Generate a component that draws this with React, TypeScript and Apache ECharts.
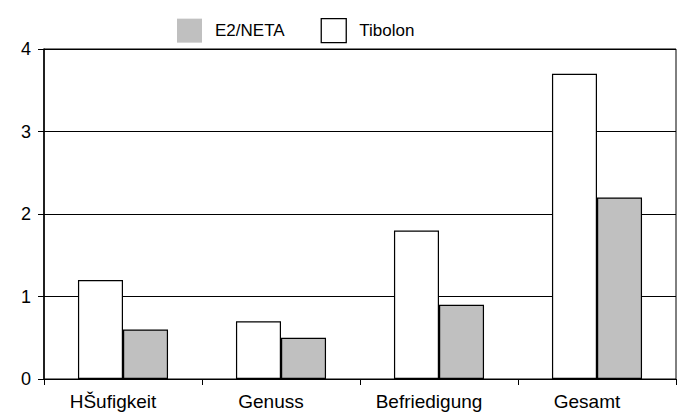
import React, { useEffect, useRef } from "react";
import * as echarts from "echarts";

const categories = ["HŠufigkeit", "Genuss", "Befriedigung", "Gesamt"];
const tibolon = [1.2, 0.7, 1.8, 3.7];
const e2neta = [0.6, 0.5, 0.9, 2.2];
const yTicks = [0, 1, 2, 3, 4];

export default function App() {
  const ref = useRef<HTMLDivElement>(null);

  useEffect(() => {
    if (!ref.current) return;
    const chart = echarts.init(ref.current, undefined, { renderer: "svg" });
    const font = "Liberation Sans, Arial, sans-serif";
    chart.setOption({
      animation: false,
      backgroundColor: "#ffffff",
      textStyle: { fontFamily: font },
      legend: {
        data: [
          { name: "E2/NETA", itemStyle: { borderWidth: 0 } },
          { name: "Tibolon", itemStyle: { borderWidth: 1.3, borderColor: "#000" } },
        ],
        top: 13,
        left: 172,
        itemWidth: 25,
        itemHeight: 24,
        itemGap: 36,
        icon: "rect",
        textStyle: { fontSize: 17, color: "#000", fontFamily: font, padding: [0, 0, 0, 8] },
      },
      grid: {
        left: 44,
        right: 1,
        top: 49,
        bottom: 33,
        show: true,
        borderColor: "#000",
        borderWidth: 1,
      },
      xAxis: {
        type: "category",
        data: categories,
        axisLine: { lineStyle: { color: "#000", width: 1 } },
        axisTick: { show: true, length: 6, alignWithLabel: false, lineStyle: { color: "#000" } },
        axisLabel: { color: "#000", fontSize: 19, margin: 13, fontFamily: font, padding: [0, 20, 0, 0] },
      },
      yAxis: {
        type: "value",
        min: yTicks[0],
        max: yTicks[yTicks.length - 1],
        interval: 1,
        axisLine: { show: true, lineStyle: { color: "#000", width: 1.5 } },
        axisTick: { show: true, length: 6, lineStyle: { color: "#000" } },
        axisLabel: { color: "#000", fontSize: 18, margin: 13, fontFamily: font },
        splitLine: { show: true, lineStyle: { color: "#000", width: 1 } },
      },
      series: [
        {
          name: "Tibolon",
          type: "bar",
          data: tibolon,
          barGap: "0%",
          barCategoryGap: "43%",
          itemStyle: { color: "#ffffff", borderColor: "#000", borderWidth: 1.2 },
        },
        {
          name: "E2/NETA",
          type: "bar",
          data: e2neta,
          barGap: "0%",
          barCategoryGap: "43%",
          itemStyle: { color: "#c0c0c0", borderColor: "#000", borderWidth: 1.2 },
        },
      ],
    });
    return () => chart.dispose();
  }, []);

  return <div ref={ref} style={{ width: 677, height: 412, position: "fixed", left: 0, top: 0 }} />;
}
